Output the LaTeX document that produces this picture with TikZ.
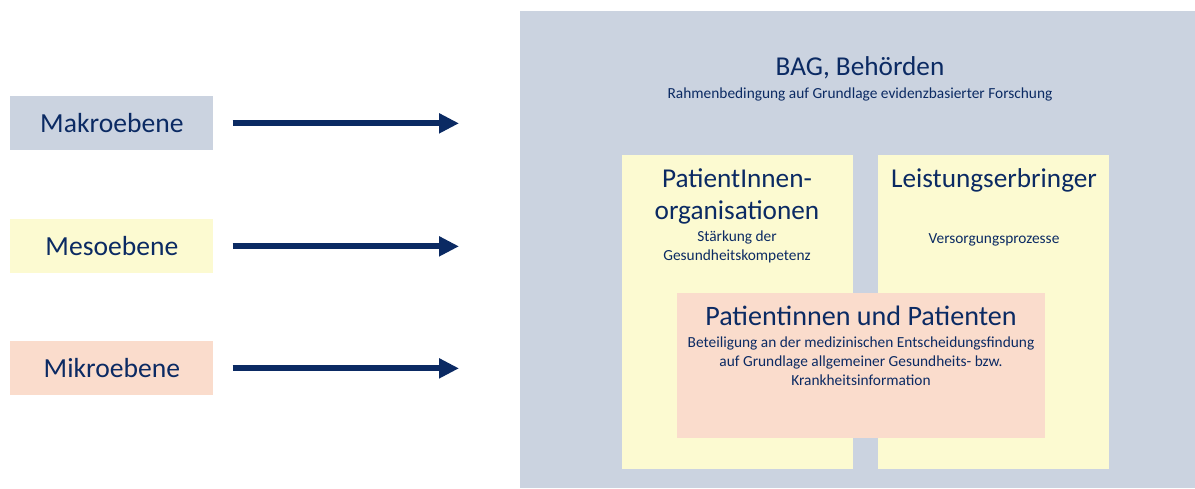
\documentclass[tikz,border=0pt]{standalone}
\usepackage{fontspec}
\setmainfont{Carlito}
\usetikzlibrary{arrows.meta}
\definecolor{navy}{HTML}{0B2A63}
\definecolor{makrogrey}{HTML}{CBD3E0}
\definecolor{mesoyellow}{HTML}{FCFAD1}
\definecolor{mikropink}{HTML}{FADCCC}
\begin{document}
\begin{tikzpicture}[x=0.02cm, y=-0.02cm,
    box/.style={anchor=north west, inner sep=0pt, draw=none},
    levelbox/.style={box, minimum width=203*0.02cm, minimum height=54*0.02cm},
    big/.style={navy, font=\fontsize{15.5}{18.2}\selectfont},
    small/.style={navy, font=\fontsize{8.75}{10.8}\selectfont, align=center},
    levelarrow/.style={-{Triangle[length=20*0.02cm, width=19*0.02cm]}, line width=6*0.02cm, navy, shorten <=19*0.02cm}]
    \useasboundingbox (0,0) rectangle (1195,489);

    % Ebenen links
    \node[levelbox, fill=makrogrey] (makro) at (10,96) {};
    \node[levelbox, fill=mesoyellow] (meso) at (10,219) {};
    \node[levelbox, fill=mikropink] (mikro) at (10,341) {};
    \node[navy, font=\fontsize{15.7}{18}\selectfont] at (makro.center) {Makroebene};
    \node[navy, font=\fontsize{15.7}{18}\selectfont] at (meso.center) {Mesoebene};
    \node[navy, font=\fontsize{15.7}{18}\selectfont] at (mikro.center) {Mikroebene};

    % Kasten BAG
    \node[box, fill=makrogrey, minimum width=675*0.02cm, minimum height=477*0.02cm] (bag) at (520,11) {};
    \node[big] (bagtitle) at (860,68) {BAG, Behörden};
    \node[small] (bagtext) at (860,94) {Rahmenbedingung auf Grundlage evidenzbasierter Forschung};

    % Pfeile
    \coordinate (arrowend) at (459,0);
    \draw[levelarrow] (makro.east) -- (makro.east -| arrowend);
    \draw[levelarrow] (meso.east) -- (meso.east -| arrowend);
    \draw[levelarrow] (mikro.east) -- (mikro.east -| arrowend);

    % Organisationen und Leistungserbringer
    \node[box, fill=mesoyellow, minimum width=231*0.02cm, minimum height=314*0.02cm] (orgs) at (622,155) {};
    \node[box, fill=mesoyellow, minimum width=231*0.02cm, minimum height=314*0.02cm] (leist) at (878,155) {};
    \node[big, align=center] (orgstitle) at (737,196) {PatientInnen-\\organisationen};
    \node[small] (orgstext) at (737,247) {Stärkung der\\Gesundheitskompetenz};
    \node[big] (leisttitle) at (994,180) {Leistungserbringer};
    \node[small] (leisttext) at (994,240) {Versorgungsprozesse};

    % Patientinnen und Patienten
    \node[box, fill=mikropink, minimum width=368*0.02cm, minimum height=145*0.02cm] (pat) at (677,293) {};
    \node[big, font=\fontsize{16}{18}\selectfont] (pattitle) at (861,316) {Patientinnen und Patienten};
    \node[small] (pattext) at (861,361) {Beteiligung an der medizinischen Entscheidungsfindung\\auf Grundlage allgemeiner Gesundheits- bzw.\\Krankheitsinformation};
\end{tikzpicture}
\end{document}
